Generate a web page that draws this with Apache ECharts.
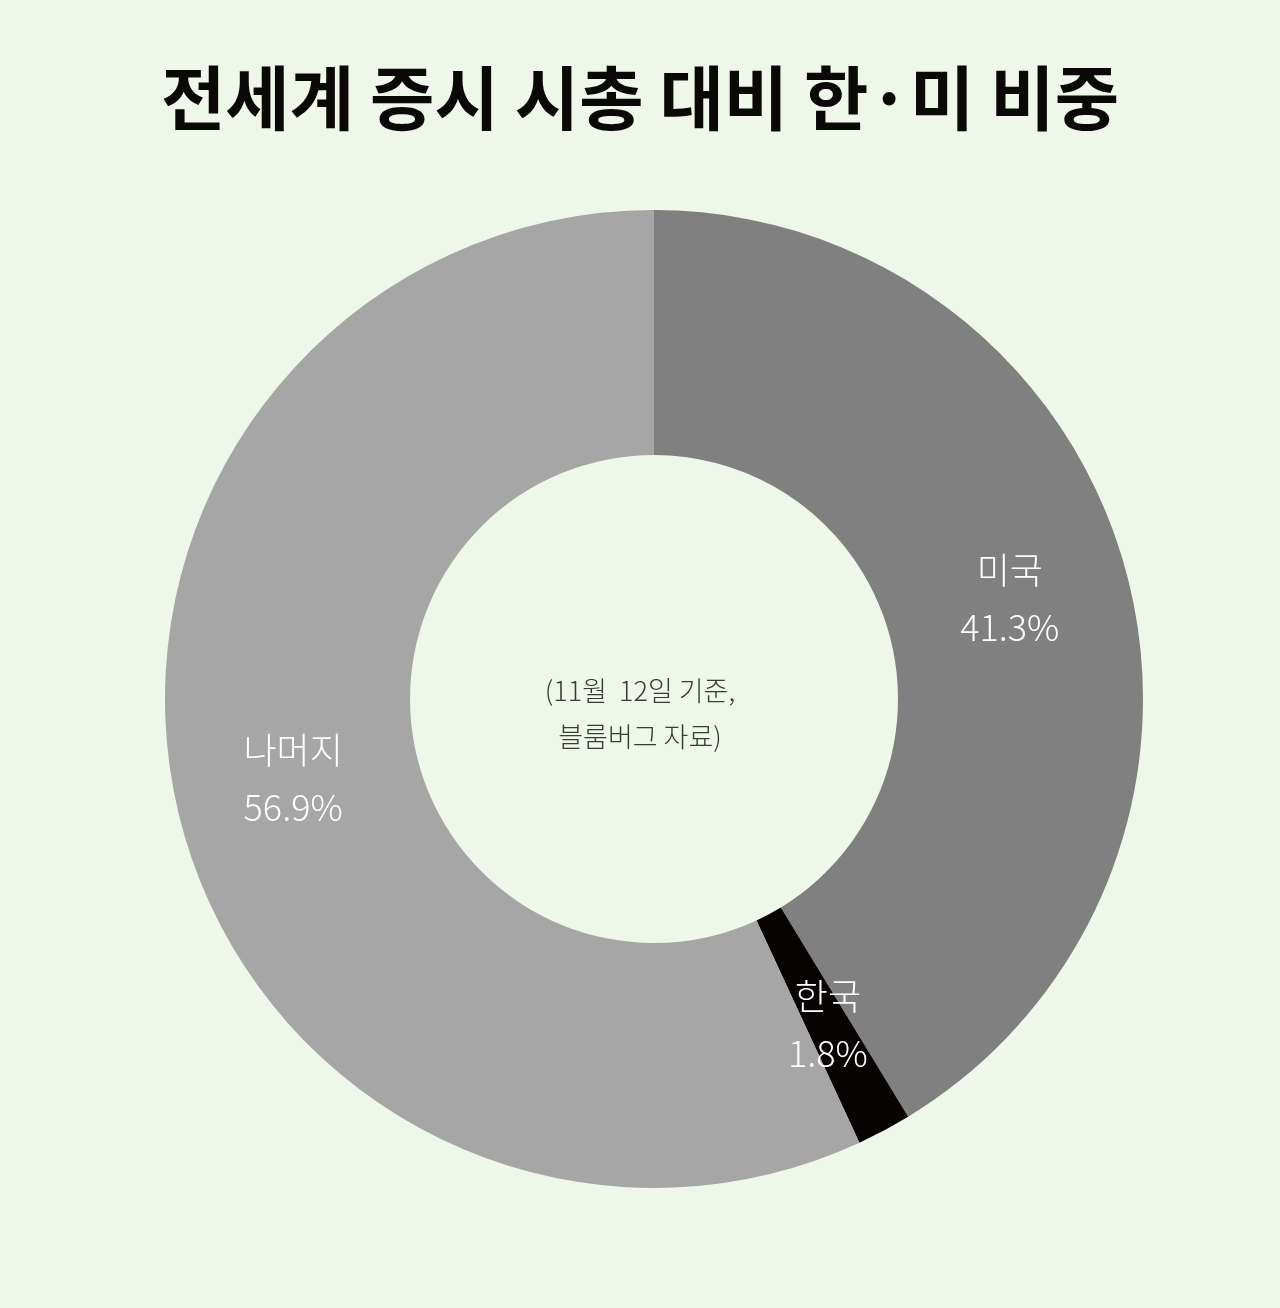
<!DOCTYPE html>
<html>
<head>
<meta charset="UTF-8">
<title>전세계 증시 시총 대비 한·미 비중</title>
<script src="https://cdn.jsdelivr.net/npm/echarts@6/dist/echarts.min.js"></script>
<style>
html,body{
margin:0;
padding:0;
background:#eff6ea;
}
#chart{
width:1280px;
height:1308px;
}
</style>
</head>
<body>

<div id="chart"></div>

<script>

// 데이터 (블룸버그, 11월 12일 기준)
const names = ["미국","한국","나머지"]
const shares = [41.3,1.8,56.9]
const colors = ["#808080","#070303","#a6a6a6"]

const title = "전세계 증시 시총 대비 한·미 비중"
const note = "(11월  12일 기준,\n블룸버그 자료)"

const font = "'Noto Sans CJK KR','Noto Sans',sans-serif"

const chart = echarts.init(document.getElementById("chart"))

chart.setOption({

 backgroundColor:"#eff6ea",

 title:{
  text:title,
  left:"center",
  top:58,
  textStyle:{
   fontFamily:font,
   fontSize:70,
   fontWeight:"bold",
   color:"#0b0808"
  }
 },

 graphic:[
  {
   type:"text",
   left:"center",
   top:668,
   style:{
    text:note,
    textAlign:"center",
    fontFamily:font,
    fontSize:27,
    fontWeight:300,
    lineHeight:46,
    fill:"#3a3a3a"
   }
  }
 ],

 series:[
  {
   type:"pie",
   center:[654,699],
   radius:[244,489],
   startAngle:90,
   clockwise:true,
   avoidLabelOverlap:false,
   animation:false,
   silent:true,
   itemStyle:{ borderWidth:0 },
   label:{
    show:true,
    position:"inside",
    formatter:p=>p.name+"\n"+p.value.toFixed(1)+"%",
    fontFamily:font,
    fontSize:36,
    fontWeight:300,
    lineHeight:57,
    color:"#ffffff"
   },
   labelLine:{ show:false },
   data:names.map((n,i)=>({
    name:n,
    value:shares[i],
    itemStyle:{ color:colors[i] }
   }))
  }
 ]

})

</script>

</body>
</html>
